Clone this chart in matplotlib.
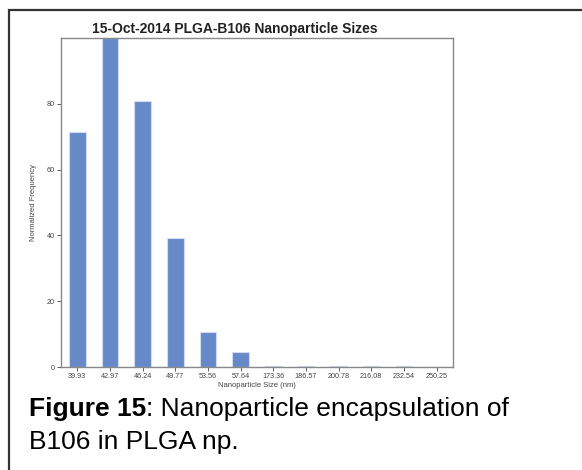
import matplotlib
matplotlib.use("Agg")
from matplotlib import pyplot as plt
from matplotlib.patches import Rectangle

plt.rcParams['font.family'] = ['Liberation Sans', 'DejaVu Sans']

sizes = ["39.93", "42.97", "46.24", "49.77", "53.56", "57.64",
         "173.36", "186.57", "200.78", "216.08", "232.54", "250.25"]
freq = [71.3, 100, 81, 39.2, 10.7, 4.5, 0.2, 0.4, 0.4, 0.4, 0.3, 0.1]
yticks = [0, 20, 40, 60, 80]

W, H = 582, 470
fig = plt.figure(figsize=(W / 100, H / 100), dpi=100)

# outer frame of the figure panel
fig.patches.append(Rectangle((9 / W, -0.05), 1.2, 1 - 10 / H + 0.05, transform=fig.transFigure,
                             fill=False, edgecolor='#333333', linewidth=1.6))

ax = fig.add_axes([61 / W, 1 - 367 / H, (453 - 61) / W, (367 - 38) / H])
x = list(range(len(sizes)))
colors = ['#6889c8' if v > 2 else '#c9d6ee' for v in freq]
ax.bar(x, freq, width=0.52, color=colors, edgecolor='#cfdcf3', linewidth=0.8)

ax.set_xlim(-0.5, len(sizes) - 0.5)
ax.set_ylim(0, 100)
ax.set_xticks(x)
ax.set_xticklabels(sizes)
ax.set_yticks(yticks)
ax.tick_params(labelsize=5.2, colors='#444444', length=3, width=0.6, pad=1.5)
for s in ax.spines.values():
    s.set_color('#888888')
    s.set_linewidth(1)

ax.set_xlabel("Nanoparticle Size (nm)", fontsize=5.5, color='#444444', labelpad=1)
ax.set_ylabel("Normalized Frequency", fontsize=5.5, color='#444444', labelpad=7)

fig.text(235 / W, 1 - 29 / H, "15-Oct-2014 PLGA-B106 Nanoparticle Sizes",
         ha='center', va='center', fontsize=10, fontweight='bold', color='#222222')

# caption: bold "Figure 15" followed by regular text
t1 = fig.text(29 / W, 1 - 409 / H, "Figure 15", ha='left', va='center',
              fontsize=19, fontweight='bold')
fig.canvas.draw()
bb = t1.get_window_extent()
fig.text(bb.x1 / W, 1 - 409 / H, ": Nanoparticle encapsulation of", ha='left',
         va='center', fontsize=19)
fig.text(29 / W, 1 - 442 / H, "B106 in PLGA np.", ha='left', va='center',
         fontsize=19)

fig.savefig("out.png", dpi=100)
